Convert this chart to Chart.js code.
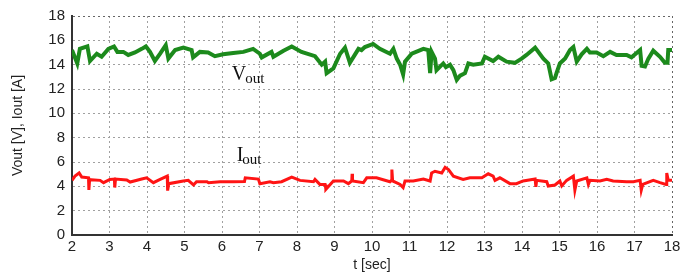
<!DOCTYPE html>
<html>
<head>
<meta charset="utf-8">
<script src="https://cdn.jsdelivr.net/npm/chart.js@4/dist/chart.umd.min.js"></script>
<style>
  html, body { margin: 0; padding: 0; background: #fff; }
  #wrap { width: 693px; height: 275px; }
</style>
</head>
<body>
<div id="wrap"><canvas id="chart" width="693" height="275"></canvas></div>
<script>
// Vout (green) samples
const voutTime = [2.0, 2.14, 2.21, 2.41, 2.48, 2.66, 2.79, 2.97, 3.12, 3.21, 3.37, 3.5, 3.68, 3.86, 3.97,
  4.08, 4.21, 4.35, 4.5, 4.57, 4.75, 4.97, 5.19, 5.23, 5.41, 5.63, 5.81, 6.03, 6.3, 6.57, 6.83,
  7.01, 7.06, 7.32, 7.37, 7.64, 7.86, 8.12, 8.48, 8.66, 8.75, 8.79, 8.97, 9.15, 9.28, 9.41, 9.64,
  9.72, 9.81, 10.03, 10.21, 10.48, 10.57, 10.66, 10.75, 10.83, 10.88, 11.06, 11.37, 11.5, 11.55,
  11.59, 11.68, 11.72, 11.9, 11.97, 12.08, 12.17, 12.26, 12.35, 12.48, 12.57, 12.7, 12.93, 13.01,
  13.23, 13.37, 13.59, 13.81, 13.99, 14.12, 14.35, 14.57, 14.7, 14.79, 14.88, 14.92, 15.01, 15.15,
  15.28, 15.37, 15.46, 15.59, 15.73, 15.81, 15.99, 16.17, 16.35, 16.52, 16.79, 16.92, 17.15, 17.19,
  17.28, 17.37, 17.5, 17.68, 17.81, 17.88, 17.9, 18.0];
const voutValues = [15.2, 14.1, 15.3, 15.5, 14.3, 14.9, 14.65, 15.3, 15.5, 15.05, 15.05, 14.8, 15.0, 15.3, 15.5,
  15.05, 14.3, 14.9, 15.6, 14.5, 15.2, 15.4, 15.2, 14.6, 15.05, 15.0, 14.7, 14.85, 14.95, 15.05, 15.3,
  14.9, 14.6, 15.05, 14.65, 15.15, 15.5, 15.05, 14.7, 14.0, 14.25, 13.3, 13.7, 14.9, 15.4, 14.15, 15.3,
  15.2, 15.45, 15.7, 15.3, 14.9, 15.3, 14.5, 14.0, 13.2, 14.25, 14.9, 15.3, 15.2, 13.3,
  15.05, 14.5, 13.55, 14.1, 13.8, 14.0, 13.55, 12.75, 13.1, 13.3, 14.1, 14.0, 14.1, 14.65,
  14.3, 14.65, 14.25, 14.15, 14.5, 14.8, 15.4, 14.5, 14.1, 12.8, 12.9, 13.3, 14.1, 14.5,
  15.2, 15.45, 14.25, 14.85, 15.3, 15.0, 15.0, 14.7, 15.05, 14.8, 14.8, 14.6, 15.2, 13.9,
  13.85, 14.5, 15.15, 14.65, 14.15, 14.15, 15.2, 15.2];

// Iout (red) samples
const ioutTime = [2.0, 2.08, 2.19, 2.26, 2.44, 2.45, 2.47, 2.75, 2.84, 3.01, 3.13, 3.14, 3.16, 3.46, 3.55,
  3.86, 3.99, 4.17, 4.35, 4.54, 4.55, 4.58, 4.97, 5.1, 5.24, 5.32, 5.6, 5.64, 5.95, 6.3, 6.6, 6.62,
  6.97, 7.01, 7.28, 7.37, 7.59, 7.86, 8.08, 8.44, 8.48, 8.61, 8.75, 8.77, 8.97, 9.24, 9.37, 9.46,
  9.47, 9.48, 9.77, 9.86, 10.12, 10.48, 10.52, 10.53, 10.55, 10.75, 10.83, 10.88, 11.1, 11.37, 11.55,
  11.59, 11.68, 11.86, 11.95, 12.04, 12.17, 12.43, 12.61, 12.93, 13.1, 13.23, 13.28, 13.41, 13.68,
  13.85, 14.03, 14.35, 14.37, 14.39, 14.66, 14.7, 14.88, 15.01, 15.06, 15.19, 15.37, 15.41, 15.46,
  15.73, 15.77, 15.81, 16.08, 16.26, 16.43, 16.79, 16.97, 17.15, 17.18, 17.22, 17.5, 17.68, 17.84,
  17.86, 17.9, 18.0];
const ioutValues = [4.49, 4.84, 5.1, 4.76, 4.7, 3.7, 4.55, 4.49, 4.3, 4.57, 4.6, 3.9, 4.6, 4.52, 4.35,
  4.6, 4.7, 4.3, 4.57, 4.84, 3.65, 4.22, 4.44, 4.49, 4.11, 4.38, 4.38, 4.3, 4.38, 4.38, 4.4, 4.7,
  4.6, 4.22, 4.38, 4.3, 4.38, 4.76, 4.49, 4.38, 4.57, 4.16, 4.16, 3.76, 4.44, 4.44, 4.22, 4.44,
  5.03, 4.44, 4.3, 4.7, 4.7, 4.38, 4.49, 5.38, 4.44, 4.16, 3.9, 4.44, 4.44, 4.6, 4.44,
  5.1, 5.24, 5.1, 5.56, 5.38, 4.84, 4.57, 4.7, 4.7, 5.03, 4.84, 4.49, 4.7, 4.22,
  4.22, 4.44, 4.6, 3.95, 4.49, 4.38, 4.03, 4.11, 4.44, 4.03, 4.49, 4.84, 3.68, 4.44,
  4.7, 4.16, 4.49, 4.44, 4.57, 4.44, 4.38, 4.38, 4.49, 3.68, 4.16, 4.49, 4.3, 4.16,
  5.1, 4.49, 4.49];

// in-plot labels: main letter, subscript, anchor (t, value)
const labelMain = ["V", "I"];
const labelSub = ["out", "out"];
const labelTime = [6.26, 6.39];
const labelValue = [12.75, 6.05];

const font = "'Liberation Sans', Arial, sans-serif";

function toPoints(xs, ys) {
  return xs.map((x, i) => ({ x: x, y: ys[i] }));
}

const seriesLabels = {
  id: "seriesLabels",
  afterDatasetsDraw(chart) {
    const ctx = chart.ctx;
    const xs = chart.scales.x, ys = chart.scales.y;
    ctx.save();
    ctx.fillStyle = "#111";
    ctx.textBaseline = "alphabetic";
    ctx.textAlign = "left";
    for (let i = 0; i < labelMain.length; i++) {
      const px = xs.getPixelForValue(labelTime[i]);
      const py = ys.getPixelForValue(labelValue[i]);
      ctx.font = "20px 'Liberation Serif', 'Times New Roman', serif";
      ctx.fillText(labelMain[i], px, py);
      const w = ctx.measureText(labelMain[i]).width;
      ctx.font = "15px 'Liberation Serif', 'Times New Roman', serif";
      ctx.fillText(labelSub[i], px + w - 1, py + 3);
    }
    ctx.restore();
  }
};

const gridColor = (edge) => (c) => (c.tick && c.tick.value === edge ? "#666" : "#a0a0a0");

new Chart(document.getElementById("chart"), {
  type: "scatter",
  data: {
    datasets: [
      {
        label: "Vout",
        data: toPoints(voutTime, voutValues),
        showLine: true,
        borderColor: "#1c8a1c",
        borderWidth: 4,
        pointRadius: 0,
        tension: 0
      },
      {
        label: "Iout",
        data: toPoints(ioutTime, ioutValues),
        showLine: true,
        borderColor: "#ff1414",
        borderWidth: 3,
        pointRadius: 0,
        tension: 0
      }
    ]
  },
  options: {
    responsive: false,
    animation: false,
    layout: { padding: { top: 12, right: 21, left: 0, bottom: 0 } },
    plugins: {
      legend: { display: false },
      tooltip: { enabled: false }
    },
    scales: {
      x: {
        type: "linear",
        min: 2,
        max: 18,
        ticks: { stepSize: 1, color: "#222", font: { family: font, size: 15 }, padding: 3, maxRotation: 0 },
        grid: { color: gridColor(18), lineWidth: 1, drawTicks: false },
        border: { display: true, color: "#333", width: 2, dash: [2, 3] },
        title: { display: true, text: "t [sec]", color: "#222", font: { family: font, size: 14 }, padding: { top: 0, bottom: 1 } },
        afterFit(scale) { scale.height = 40; }
      },
      y: {
        min: 0,
        max: 18,
        ticks: { stepSize: 2, color: "#222", font: { family: font, size: 15 }, padding: 7 },
        grid: { color: gridColor(18), lineWidth: 1, drawTicks: false },
        border: { display: true, color: "#333", width: 2, dash: [2, 3] },
        title: { display: true, text: "Vout [V], Iout [A]", color: "#222", font: { family: font, size: 14 }, padding: { top: 10, bottom: 0 } },
        afterFit(scale) { scale.width = 72; }
      }
    }
  },
  plugins: [seriesLabels]
});
</script>
</body>
</html>
